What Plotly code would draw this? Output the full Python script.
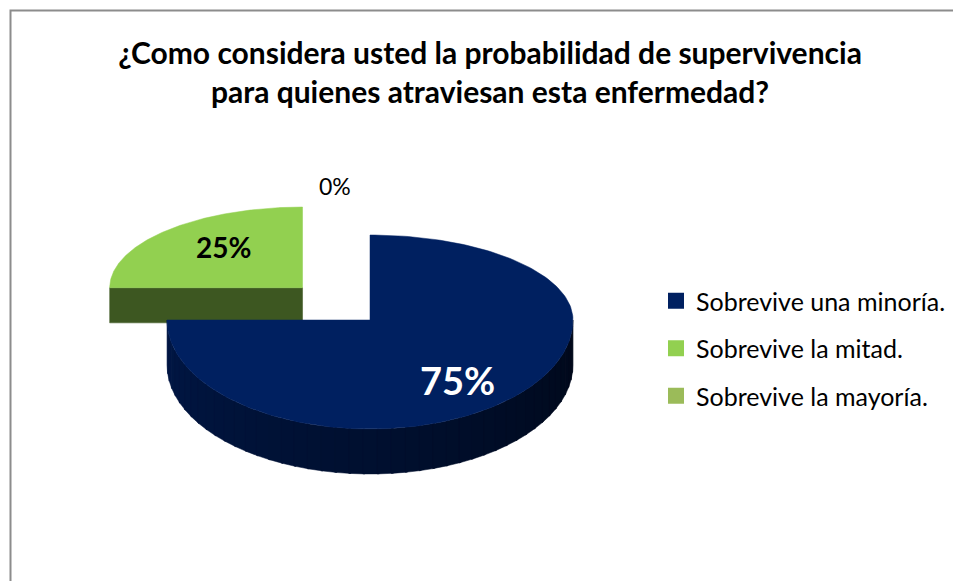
"""3D-style exploded pie: probabilidad de supervivencia"""

import numpy as np
import plotly.graph_objects as go

# data
labels = ["Sobrevive una minoría.", "Sobrevive la mitad.", "Sobrevive la mayoría."]
values = [75, 25, 0]
colors = ["#002060", "#92d050", "#9bbb59"]
title = "¿Como considera usted la probabilidad de supervivencia<br>para quienes atraviesan esta enfermedad?"

# geometry of the fake 3D pie (axis units == window pixels)
CX, CY = 370, 320
RX, RY_BACK, RY_FRONT = 203, 85, 109
DEPTH = 45
PULL = [0.0, 0.47, 0.47]
SHRINK = [1.0, 0.95, 0.95]
DEPTH_K = [1.0, 0.78, 0.78]
LABEL_R = [(0.61, 0.78), (0.58, 0.72), (0.0, 1.1)]
LABEL_FONT = [dict(size=38, color="white"), dict(size=28, color="black"), dict(size=23, color="black")]

# page has an 8px body margin: map axis units onto window pixels
OFF = 8
W, H = 961, 581


def _shade(hex_color, factor):
    """Darken a hex colour by factor (0..1)"""
    h = hex_color.lstrip("#")
    rgb = [int(h[i:i + 2], 16) for i in (0, 2, 4)]
    return "rgb({},{},{})".format(*[int(c * factor) for c in rgb])


def _point(sl, a, z=0.0):
    """Screen point on a slice's ellipse at angle a (degrees), depth z (0 top, 1 bottom)"""
    r = np.radians(a)
    ry = RY_BACK if np.sin(r) > 0 else RY_FRONT
    return (sl["cx"] + sl["s"] * RX * np.cos(r),
            sl["cy"] - sl["s"] * ry * np.sin(r) + z * sl["d"])


def _poly(fig, xs, ys, color):
    fig.add_trace(go.Scatter(x=xs, y=ys, fill="toself", fillcolor=color, mode="lines",
                             line=dict(width=0.5, color=color), hoverinfo="skip",
                             showlegend=False))


fig = go.Figure()

total = sum(values)
slices = []
start = 90.0
for i, v in enumerate(values):
    end = start - 360.0 * v / total
    mid = np.radians((start + end) / 2)
    ox = PULL[i] * RX * np.cos(mid)
    oy = -PULL[i] * (RY_BACK + RY_FRONT) / 2 * np.sin(mid)
    slices.append(dict(i=i, a0=start, a1=end, mid=(start + end) / 2, cx=CX + ox, cy=CY + oy,
                       s=SHRINK[i], d=DEPTH * DEPTH_K[i]))
    start = end

# draw back to front
for sl in sorted(slices, key=lambda d: d["cy"]):
    if values[sl["i"]] == 0:
        continue
    cx, cy, a0, a1 = sl["cx"], sl["cy"], sl["a0"], sl["a1"]
    base = colors[sl["i"]]

    # radial faces turned towards the viewer
    for edge, visible in ((a0, np.cos(np.radians(a0)) < -1e-9), (a1, np.cos(np.radians(a1)) > 1e-9)):
        if visible:
            p1 = _point(sl, edge)
            p2 = _point(sl, edge, 1)
            _poly(fig, [cx, p1[0], p2[0], cx, cx], [cy, p1[1], p2[1], cy + sl["d"], cy],
                  _shade(base, 0.42))

    # curved outer wall, front half only, in shaded strips
    for a in np.arange(-180, 0, 4):
        seg_lo, seg_hi = max(a, a1), min(a + 4.6, a0, 0)
        if seg_hi <= seg_lo:
            continue
        angs = np.linspace(seg_lo, seg_hi, 4)
        top = [_point(sl, t) for t in angs]
        bot = [_point(sl, t, 1) for t in angs[::-1]]
        xs = [p[0] for p in top + bot] + [top[0][0]]
        ys = [p[1] for p in top + bot] + [top[0][1]]
        f = 0.72 - 0.45 * (a + 180) / 180
        _poly(fig, xs, ys, _shade(base, f))

    # top face
    pts = [_point(sl, t) for t in np.linspace(a0, a1, 200)]
    _poly(fig, [cx] + [p[0] for p in pts] + [cx], [cy] + [p[1] for p in pts] + [cy], base)

# percentage labels
for sl in slices:
    i = sl["i"]
    r = np.radians(sl["mid"])
    ry = RY_BACK if np.sin(r) > 0 else RY_FRONT
    fx, fy = LABEL_R[i]
    lx = sl["cx"] + fx * sl["s"] * RX * np.cos(r)
    ly = sl["cy"] - fy * sl["s"] * ry * np.sin(r)
    fig.add_annotation(x=lx, y=ly, text="{:.0f}%".format(100 * values[i] / total),
                       showarrow=False,
                       xshift=-35 if values[i] == 0 else 0,
                       font=dict(family="Lato", size=LABEL_FONT[i]["size"],
                                 color=LABEL_FONT[i]["color"],
                                 weight=400 if values[i] == 0 else 700))

# legend entries
for i, (lab, col) in enumerate(zip(labels, colors)):
    fig.add_trace(go.Scatter(x=[None], y=[None], mode="markers", name=lab, legendgroup=str(i),
                             marker=dict(symbol="square", size=16, color=col)))

fig.add_shape(type="rect", xref="paper", yref="paper", x0=(10.5 - OFF) / W, x1=1.02,
              y0=-0.02, y1=1 - (10.5 - OFF) / H, line=dict(color="#8c8c8c", width=2))

fig.update_layout(
    width=W, height=H,
    margin=dict(l=0, r=0, t=0, b=0),
    paper_bgcolor="white", plot_bgcolor="white",
    title=dict(text=title, x=(490 - OFF) / W, xanchor="center", y=1 - (64 - OFF) / H,
               yanchor="top",
               font=dict(family="Lato", size=30, color="black", weight=700)),
    xaxis=dict(range=[OFF, W + OFF], visible=False, fixedrange=True),
    yaxis=dict(range=[H + OFF, OFF], visible=False, fixedrange=True),
    legend=dict(x=(656 - OFF) / W, y=1 - (278 - OFF) / H, xanchor="left", yanchor="top",
                tracegroupgap=12, font=dict(family="Lato", size=25, color="black")),
    showlegend=True,
)

fig.write_html("out.html")
